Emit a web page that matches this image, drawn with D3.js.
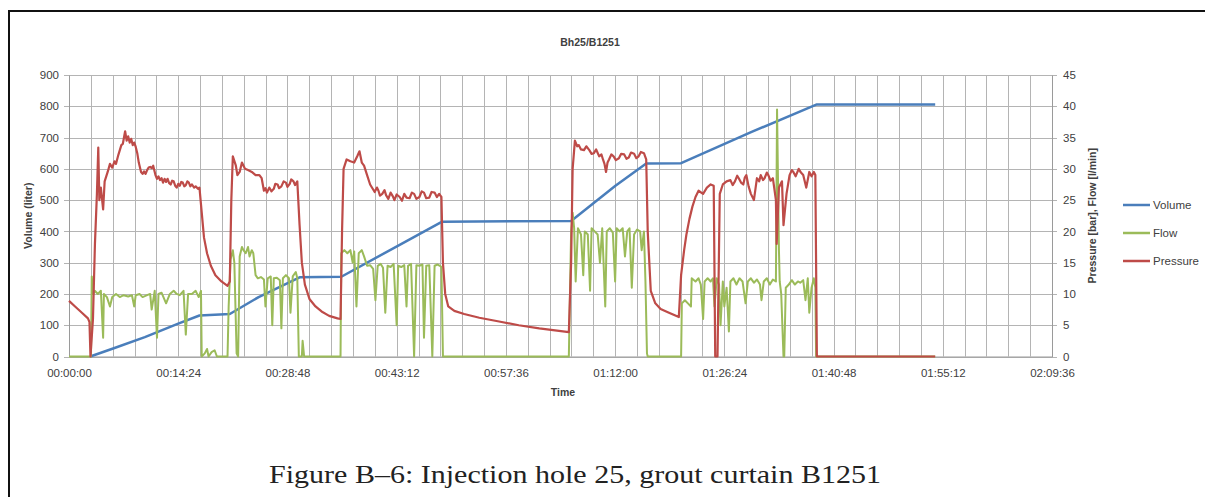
<!DOCTYPE html>
<html>
<head>
<meta charset="utf-8">
<script src="https://cdn.jsdelivr.net/npm/d3@7"></script>
<style>
  html, body { margin: 0; padding: 0; background: #fff; }
  svg { display: block; }
  .tick-label { font-family: "Liberation Sans", Arial, sans-serif; font-size: 11.5px; fill: #404040; }
  .axis-title { font-family: "Liberation Sans", Arial, sans-serif; font-weight: bold; fill: #404040; }
</style>
</head>
<body>
<div id="chart"></div>
<script>
// time in minutes
const seriesNames = ['Volume', 'Flow', 'Pressure'];
const seriesColors = ['#4a7ebb', '#9bbb59', '#be4b48'];

const volumeTicks = [0, 100, 200, 300, 400, 500, 600, 700, 800, 900];
const rightTicks = [0, 5, 10, 15, 20, 25, 30, 35, 40, 45];
const timeTicks = [0, 14.4, 28.8, 43.2, 57.6, 72, 86.4, 100.8, 115.2, 129.6];

// Volume [liter]
const volumePoints = [
  [2.8, 0], [6, 27], [10, 62], [14.4, 105], [17.2, 131], [21.2, 136],
  [25, 190], [30.4, 253], [35.9, 255], [44.2, 365], [49.2, 431],
  [66.2, 433], [72, 545], [76.1, 617], [80.7, 618], [90, 718], [98.6, 806],
  [114.2, 806]
];

// Flow [l/min]
const flowPoints = [
  [0, 0], [2.9, 0], [3.0, 12.8], [3.2, 10], [3.4, 10.5], [3.8, 10], [4.2, 10.5], [4.5, 3],
  [4.6, 10], [5.0, 9.5], [5.4, 8], [5.7, 9.5], [6.2, 10], [6.7, 9.5], [7.2, 9.8], [7.8, 9.6],
  [8.3, 9.8], [8.6, 8], [8.8, 9.8], [9.3, 10], [9.7, 9.5], [10.3, 9.8], [10.7, 10], [10.9, 7.5],
  [11.3, 10.5], [11.6, 3], [11.8, 10], [12.2, 10.2], [12.8, 8.5], [13.3, 10], [13.8, 10.5],
  [14.2, 10], [14.6, 9.8], [15.1, 10.5], [15.4, 3.5], [15.7, 10], [16.2, 10], [16.7, 10.5],
  [17.1, 9.5], [17.4, 10.5], [17.5, 0], [17.9, 0.5], [18.2, 1.2], [18.4, 0], [18.8, 0.7],
  [19.2, 1], [19.5, 0], [20.9, 0], [21.05, 8], [21.3, 15.5], [21.6, 17], [21.8, 15], [22.1, 0.5],
  [22.3, 0], [22.5, 16], [22.8, 17.5], [23.0, 17], [23.3, 16.5], [23.6, 17.5], [23.8, 16],
  [24.1, 17], [24.3, 16.5], [24.6, 13], [24.9, 12.5], [25.3, 12.7], [25.7, 12.3], [25.9, 8],
  [26.2, 12.5], [26.6, 12.8], [26.8, 5], [27.0, 12.5], [27.4, 12.6], [27.8, 12.2], [28.0, 4.5],
  [28.2, 12.5], [28.6, 13], [29.0, 12.5], [29.2, 7], [29.5, 12.8], [29.9, 13.5], [30.1, 12.5],
  [30.3, 0], [30.7, 0], [30.8, 2.5], [31.0, 0], [35.8, 0], [35.9, 16.5], [36.3, 17], [36.7, 16.5],
  [37.1, 17], [37.4, 15], [37.6, 16.8], [37.9, 8], [38.2, 16.5], [38.6, 17], [38.9, 16],
  [39.3, 14.5], [39.7, 14.6], [40.1, 14], [40.4, 9], [40.7, 14.5], [41.1, 14.8], [41.4, 14.2],
  [41.7, 7], [42.0, 14.5], [42.4, 14.3], [42.8, 14.8], [43.2, 5], [43.4, 14.5], [43.8, 14.3],
  [44.2, 14.6], [44.5, 8], [44.7, 14.5], [45.1, 14.8], [45.5, 0], [45.8, 14.6], [46.2, 14.5],
  [46.6, 14.7], [46.8, 3], [47.1, 14.5], [47.5, 14.6], [47.9, 0], [48.2, 14.5], [48.6, 14.7],
  [48.9, 14.5], [49.1, 14.3], [49.3, 0], [65.9, 0], [66.2, 20], [66.4, 23], [66.6, 20.5],
  [66.8, 12], [67.1, 20.5], [67.5, 19.5], [67.8, 13], [68.0, 20], [68.4, 19.5], [68.7, 10.5],
  [68.9, 20.5], [69.3, 20], [69.7, 19.5], [70.0, 15], [70.3, 20.5], [70.7, 8], [70.9, 20],
  [71.3, 20.5], [71.7, 19.8], [72.0, 12], [72.2, 20.5], [72.6, 20], [73.0, 20.5], [73.3, 16],
  [73.6, 20], [73.9, 20.5], [74.2, 11], [74.5, 19.5], [74.9, 20.3], [75.3, 20], [75.5, 17],
  [75.8, 20], [76.0, 12], [76.2, 0.5], [76.3, 0], [80.7, 0], [80.8, 8.5], [81.2, 9], [81.6, 8.5],
  [82.0, 8], [82.1, 12.5], [82.6, 12], [83.0, 12.5], [83.3, 11.5], [83.6, 6], [83.8, 12],
  [84.2, 12.5], [84.6, 12], [84.9, 12.5], [85.1, 8], [85.4, 12.5], [85.7, 11.5], [85.9, 5],
  [86.2, 12], [86.4, 8], [86.7, 11], [87.0, 4], [87.2, 12], [87.6, 12.5], [88.0, 11.5],
  [88.4, 12.5], [88.8, 12], [89.2, 8.5], [89.5, 12], [89.9, 12.5], [90.3, 11.8], [90.7, 12.3],
  [91.1, 11.5], [91.3, 9], [91.6, 12], [92.0, 12.5], [92.4, 11.5], [92.8, 12.3], [93.2, 12],
  [93.35, 39.5], [93.6, 17], [93.7, 12], [93.9, 10], [94.2, 0], [94.3, 0], [94.5, 11],
  [94.9, 11.5], [95.3, 12.2], [95.7, 11.5], [96.1, 12], [96.4, 11.8], [96.8, 12.2], [97.1, 9],
  [97.4, 12.5], [97.6, 7], [97.9, 11], [98.2, 12.5], [98.4, 11], [98.5, 0], [114.2, 0]
];

// Pressure [bar]
const pressurePoints = [
  [0, 8.9], [0.8, 8], [1.7, 7], [2.5, 6.1], [2.7, 5.5], [2.83, 0], [3.16, 6], [3.42, 18],
  [3.68, 26], [3.86, 33.4], [4.0, 25], [4.2, 27], [4.5, 23.5], [4.7, 28], [5.1, 29.5],
  [5.4, 30.8], [5.7, 30.2], [6.0, 31.2], [6.2, 30.8], [6.5, 32.2], [6.7, 33], [6.9, 33.8],
  [7.1, 34], [7.25, 35], [7.4, 36], [7.6, 34.5], [7.8, 35.2], [8.0, 34.2], [8.2, 34.8],
  [8.4, 33.8], [8.6, 34.2], [8.8, 33.5], [9.0, 32.5], [9.2, 31], [9.5, 29.5], [9.7, 29.2],
  [9.9, 29.6], [10.1, 29.2], [10.3, 29.8], [10.5, 30.2], [10.7, 30.3], [10.9, 30.1], [11.1, 30.5],
  [11.4, 29], [11.6, 28.4], [11.8, 28.8], [12.0, 28.2], [12.2, 28.5], [12.4, 27.8], [12.6, 28.4],
  [12.8, 27.9], [13.0, 28.4], [13.2, 27.7], [13.4, 27.5], [13.6, 28.1], [13.8, 28], [14.0, 27.3],
  [14.2, 27], [14.4, 27.6], [14.6, 27.3], [14.8, 27.9], [15.0, 27.8], [15.2, 27.2], [15.4, 27.4],
  [15.6, 28], [15.8, 27.8], [16.0, 27.2], [16.2, 27.5], [16.5, 27], [16.7, 27.2], [17.0, 26.8],
  [17.2, 27], [17.5, 23], [17.8, 19], [18.2, 16.5], [18.7, 14.5], [19.3, 13],
  [20.1, 12], [20.9, 11.3], [21.2, 12], [21.4, 25], [21.6, 32], [22.0, 30.5], [22.2, 29],
  [22.5, 29.5], [22.8, 31], [23.2, 30], [23.6, 29.8], [24.1, 29.5], [24.6, 29], [25.1, 29],
  [25.4, 28.5], [25.7, 26.5], [25.9, 26.9], [26.1, 26.2], [26.4, 27], [26.7, 26.4], [27.0, 26.8],
  [27.2, 27.6], [27.5, 27.5], [27.7, 26.9], [28.0, 27.2], [28.3, 28], [28.6, 27.8], [28.8, 27.1],
  [29.1, 27.6], [29.3, 28.3], [29.6, 28], [29.8, 27.4], [30.1, 28], [30.4, 21], [30.7, 15],
  [31.1, 11.5], [31.7, 9.2], [32.5, 8], [33.3, 7.2], [34.3, 6.5], [35.4, 6.1], [35.8, 6],
  [36.0, 20], [36.2, 30], [36.6, 31.5], [37.1, 31.2], [37.6, 31], [38.0, 32], [38.3, 32.8],
  [38.6, 31], [38.9, 30.5], [39.3, 29], [39.7, 27.5], [40.3, 26.3], [40.6, 27], [40.8, 26.5],
  [41.0, 25.7], [41.3, 26], [41.6, 26.6], [41.8, 25.8], [42.1, 25.2], [42.4, 26.2], [42.7, 25.6],
  [42.9, 25], [43.2, 25.9], [43.6, 25.5], [43.9, 24.9], [44.2, 26], [44.5, 25.4], [44.9, 25.3],
  [45.2, 26.2], [45.5, 26], [45.8, 25.2], [46.2, 25.5], [46.5, 26.4], [46.8, 26.2], [47.1, 25.3],
  [47.5, 25.4], [47.8, 26.3], [48.2, 26.2], [48.5, 25.5], [48.8, 26], [49.1, 25.5],
  [49.3, 15], [49.6, 10], [50.0, 8], [50.8, 7.3], [52.1, 6.8], [54.1, 6.2], [56.7, 5.6],
  [59.3, 5], [62.0, 4.5], [64.6, 4.1], [65.9, 3.9], [66.2, 15], [66.4, 30], [66.7, 34.5],
  [67.0, 33.6], [67.2, 33.8], [67.5, 33.1], [67.9, 33], [68.2, 33.6], [68.6, 33], [68.9, 32.4],
  [69.2, 32.5], [69.5, 33.1], [69.9, 32], [70.2, 32.3], [70.4, 31.5], [70.6, 30.8], [70.8, 29.5],
  [71.0, 31], [71.2, 31.5], [71.5, 32.3], [71.8, 32], [72.1, 31.4], [72.5, 31.7], [72.8, 32.4],
  [73.2, 32.3], [73.5, 31.6], [73.8, 31.8], [74.1, 32.6], [74.5, 32.4], [74.8, 31.7], [75.1, 32],
  [75.4, 32.7], [75.8, 32.5], [76.1, 31.5], [76.3, 20], [76.7, 10.5], [77.3, 8.5], [78.0, 7.6], [79.1, 7],
  [80.4, 6.3], [80.7, 13], [81.1, 17], [81.4, 19.5], [81.8, 22], [82.2, 24], [82.6, 25.5],
  [83.0, 26.5], [83.6, 26], [84.1, 27], [84.6, 27.5], [85.0, 27.3], [85.2, 0], [85.5, 0],
  [85.8, 26], [86.2, 27.5], [86.7, 28], [87.2, 28.2], [87.5, 27.4], [87.8, 28], [88.1, 28.9],
  [88.3, 28.5], [88.6, 27.8], [88.9, 27.5], [89.1, 28.6], [89.3, 29], [89.6, 27.2], [89.9, 26],
  [90.3, 25], [90.7, 28.5], [91.0, 28], [91.2, 29], [91.5, 28.2], [91.7, 28.5], [92.0, 29.4], [92.2, 29],
  [92.5, 28.1], [92.8, 28.5], [93.2, 25], [93.3, 18], [93.6, 27], [94.0, 28], [94.2, 21], [94.6, 26],
  [95.0, 29], [95.3, 29.8], [95.5, 29.5], [95.8, 28.8], [96.2, 30], [96.5, 29.4], [96.8, 29],
  [97.2, 27], [97.6, 29.5], [97.9, 28.8], [98.2, 29.5],
  [98.4, 29], [98.6, 0], [114.2, 0]
];

const W = 1205, H = 497;
const plot = { left: 69, right: 1052, top: 75, bottom: 356.5 };

const svg = d3.select('#chart').append('svg')
  .attr('width', W)
  .attr('height', H);

// page frame
svg.append('path')
  .attr('d', `M9,${H} V11 H${W}`)
  .attr('fill', 'none')
  .attr('stroke', '#111')
  .attr('stroke-width', 2);

const x = d3.scaleLinear().domain([0, 129.6]).range([plot.left, plot.right]);
const yLeft = d3.scaleLinear().domain([0, 900]).range([plot.bottom, plot.top]);
const yRight = d3.scaleLinear().domain([0, 45]).range([plot.bottom, plot.top]);

const fmtTime = (m) => {
  const s = Math.round(m * 60);
  const hh = Math.floor(s / 3600), mm = Math.floor((s % 3600) / 60), ss = s % 60;
  return [hh, mm, ss].map(v => String(v).padStart(2, '0')).join(':');
};

// Gridlines
const grid = svg.append('g').attr('stroke', '#b4b4b4').attr('stroke-width', 1);
d3.range(0, 46).forEach(i => {
  const xx = Math.round(x(i * 2.88)) + 0.5;
  grid.append('line').attr('x1', xx).attr('x2', xx).attr('y1', plot.top).attr('y2', plot.bottom);
});
volumeTicks.forEach(v => {
  const yy = Math.round(yLeft(v)) + 0.5;
  grid.append('line').attr('x1', plot.left - 5).attr('x2', plot.right + 5).attr('y1', yy).attr('y2', yy);
});

// Axes
const axisLeft = svg.append('g').attr('transform', `translate(${plot.left},0)`)
  .call(d3.axisLeft(yLeft).tickValues(volumeTicks).tickSize(0).tickPadding(10));
const axisRight = svg.append('g').attr('transform', `translate(${plot.right},0)`)
  .call(d3.axisRight(yRight).tickValues(rightTicks).tickSize(0).tickPadding(11));
const axisBottom = svg.append('g').attr('transform', `translate(0,${plot.bottom})`)
  .call(d3.axisBottom(x).tickValues(timeTicks).tickFormat(fmtTime).tickSize(0).tickPadding(12));
[axisLeft, axisRight, axisBottom].forEach(a => {
  a.select('.domain').attr('stroke', '#9a9a9a');
  a.selectAll('text').attr('class', 'tick-label').attr('font-family', null).attr('font-size', null);
});

// Series
const line = (yScale) => d3.line().x(d => x(d[0])).y(d => yScale(d[1]));
svg.append('path').datum(volumePoints)
  .attr('d', line(yLeft)).attr('fill', 'none')
  .attr('stroke', seriesColors[0]).attr('stroke-width', 2.5).attr('stroke-linejoin', 'round');
svg.append('path').datum(flowPoints)
  .attr('d', line(yRight)).attr('fill', 'none')
  .attr('stroke', seriesColors[1]).attr('stroke-width', 2).attr('stroke-linejoin', 'round');
svg.append('path').datum(pressurePoints)
  .attr('d', line(yRight)).attr('fill', 'none')
  .attr('stroke', seriesColors[2]).attr('stroke-width', 2.2).attr('stroke-linejoin', 'round');

// Titles
svg.append('text').attr('class', 'axis-title')
  .attr('x', 590).attr('y', 46).attr('text-anchor', 'middle').attr('font-size', 10.5)
  .text('Bh25/B1251');
svg.append('text').attr('class', 'axis-title')
  .attr('x', 563).attr('y', 396).attr('text-anchor', 'middle').attr('font-size', 10.5)
  .text('Time');
svg.append('text').attr('class', 'axis-title')
  .attr('transform', `translate(32,${(plot.top + plot.bottom) / 2}) rotate(-90)`)
  .attr('text-anchor', 'middle').attr('font-size', 10.5)
  .text('Volume (liter)');
svg.append('text').attr('class', 'axis-title')
  .attr('transform', `translate(1096,${(plot.top + plot.bottom) / 2}) rotate(-90)`)
  .attr('text-anchor', 'middle').attr('font-size', 10.5)
  .text('Pressure [bar], Flow [l/min]');

// Legend
const legend = svg.append('g').attr('transform', 'translate(1123,205)');
seriesNames.forEach((name, i) => {
  const g = legend.append('g').attr('transform', `translate(0,${i * 28})`);
  g.append('line').attr('x1', 0).attr('x2', 27).attr('stroke', seriesColors[i]).attr('stroke-width', 2.5);
  g.append('text').attr('class', 'tick-label').attr('x', 30).attr('dy', '0.35em').text(name);
});

// Caption
svg.append('text')
  .attr('x', 575).attr('y', 483).attr('text-anchor', 'middle')
  .attr('font-family', '"Liberation Serif", "DejaVu Serif", serif')
  .attr('font-size', 26).attr('fill', '#222')
  .attr('textLength', 612).attr('lengthAdjust', 'spacingAndGlyphs')
  .text('Figure B–6: Injection hole 25, grout curtain B1251');
</script>
</body>
</html>
